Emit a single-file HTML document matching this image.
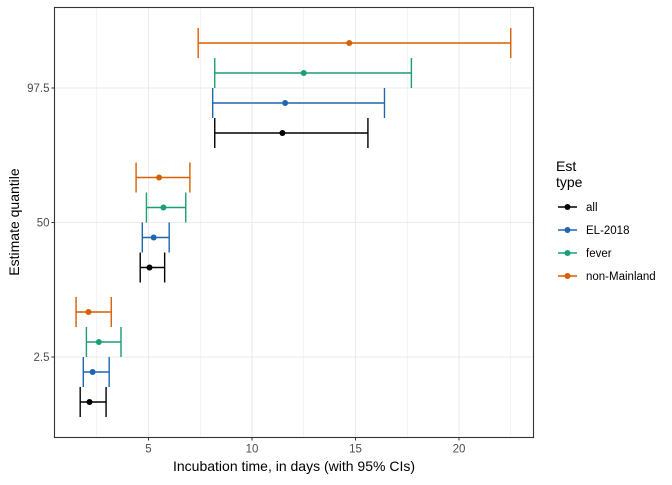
<!DOCTYPE html>
<html><head><meta charset="utf-8"><style>
body{margin:0;background:#fff;font-family:"Liberation Sans",sans-serif}
svg text{font-family:"Liberation Sans",sans-serif}
</style></head><body>
<svg id="chart" width="672" height="480"></svg>
<script>
const quantiles=["2.5","50","97.5"];
const types=["all","EL-2018","fever","non-Mainland"];
const colors=["#000000","#1f66b0","#1b9e77","#d95f02"];
// rows per type: [quantile index] values
const lo={"all":[1.7,4.6,8.2],"EL-2018":[1.85,4.7,8.1],"fever":[2.0,4.9,8.2],"non-Mainland":[1.5,4.4,7.4]};
const mid={"all":[2.15,5.05,11.47],"EL-2018":[2.3,5.25,11.6],"fever":[2.6,5.72,12.5],"non-Mainland":[2.1,5.51,14.7]};
const hi={"all":[2.95,5.78,15.6],"EL-2018":[3.1,6.0,16.4],"fever":[3.67,6.8,17.7],"non-Mainland":[3.2,7.0,22.5]};
const xTicks=[5,10,15,20];
const xMinor=[2.5,7.5,12.5,17.5,22.5];

const NS="http://www.w3.org/2000/svg";
const svg=document.getElementById("chart");
const L=54.5,R=533.5,T=7.5,B=437.5;
const x=v=>45+v*20.7;
const yq=i=>357-i*134.5;
const off=[45,15,-15,-45];
function mk(tag,a,parent){const e=document.createElementNS(NS,tag);for(const k in a)e.setAttribute(k,a[k]);(parent||svg).appendChild(e);return e;}
mk("rect",{x:L,y:T,width:R-L,height:B-T,fill:"#fff"});
xMinor.forEach(v=>{const g=mk("line",{x1:x(v),x2:x(v),y1:T,y2:B,stroke:"#ebebeb","stroke-width":0.6});

});
xTicks.forEach(v=>{const g=mk("line",{x1:x(v),x2:x(v),y1:T,y2:B,stroke:"#ebebeb","stroke-width":1.1});


mk("line",{x1:x(v),x2:x(v),y1:B,y2:B+3,stroke:"#333"});
const t=mk("text",{x:x(v),y:B+15,"text-anchor":"middle","font-size":11.5,fill:"#4d4d4d"});t.textContent=v;

});
quantiles.forEach((q,i)=>{const g=mk("line",{x1:L,x2:R,y1:yq(i),y2:yq(i),stroke:"#ebebeb","stroke-width":1.1});


mk("line",{x1:L-3,x2:L,y1:yq(i),y2:yq(i),stroke:"#333"});
const t=mk("text",{x:L-5,y:yq(i)+4,"text-anchor":"end","font-size":11.5,fill:"#4d4d4d"});t.textContent=q;

});
types.forEach((ty,k)=>{quantiles.forEach((q,i)=>{
 const g=mk("g",{stroke:colors[k],"stroke-width":1.4});
 
 
 const yy=yq(i)+off[k];
 mk("line",{x1:x(lo[ty][i]),x2:x(hi[ty][i]),y1:yy,y2:yy},g);
 mk("line",{x1:x(lo[ty][i]),x2:x(lo[ty][i]),y1:yy-15,y2:yy+15},g);
 mk("line",{x1:x(hi[ty][i]),x2:x(hi[ty][i]),y1:yy-15,y2:yy+15},g);
 const c=mk("circle",{cx:x(mid[ty][i]),cy:yy,r:3,fill:colors[k],stroke:"none"});
 
 
});});
const fr=mk("rect",{x:L,y:T,width:R-L,height:B-T,fill:"none",stroke:"#333","stroke-width":1.1});


const xt=mk("text",{x:(L+R)/2,y:471,"text-anchor":"middle","font-size":14,fill:"#000"});xt.textContent="Incubation time, in days (with 95% CIs)";


const yt=mk("text",{x:0,y:0,transform:"translate(19,222) rotate(-90)","text-anchor":"middle","font-size":14,fill:"#000"});yt.textContent="Estimate quantile";


const lt=mk("text",{x:556,y:171,"font-size":14,fill:"#000"});lt.textContent="Est";


const lt2=mk("text",{x:556,y:187,"font-size":14,fill:"#000"});lt2.textContent="type";


types.forEach((ty,k)=>{const yy=207+k*23;
 const g=mk("g",{});
 
 
 mk("line",{x1:558,x2:577,y1:yy,y2:yy,stroke:colors[k],"stroke-width":1.4},g);
 mk("circle",{cx:567.5,cy:yy,r:3,fill:colors[k]},g);
 const t=mk("text",{x:586,y:yy+4,"font-size":11.5,fill:"#000"},g);t.textContent=ty;});
</script>
</body></html>
